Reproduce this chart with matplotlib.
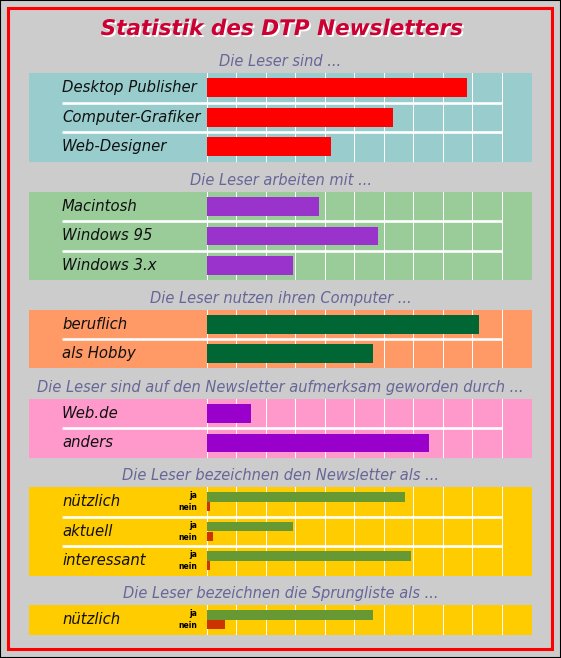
import matplotlib
matplotlib.use("Agg")
import matplotlib.pyplot as plt
import matplotlib.patheffects as pe
from matplotlib.patches import Rectangle

W, H = 561, 658

title = "Statistik des DTP Newsletters"

leser_title = "Die Leser sind ..."
leser_cats = ["Desktop Publisher", "Computer-Grafiker", "Web-Designer"]
leser_vals = [88.3, 63.2, 42.2]

system_title = "Die Leser arbeiten mit ..."
system_cats = ["Macintosh", "Windows 95", "Windows 3.x"]
system_vals = [38.1, 58.1, 29.3]

nutzung_title = "Die Leser nutzen ihren Computer ..."
nutzung_cats = ["beruflich", "als Hobby"]
nutzung_vals = [92.4, 56.4]

quelle_title = "Die Leser sind auf den Newsletter aufmerksam geworden durch ..."
quelle_cats = ["Web.de", "anders"]
quelle_vals = [15.1, 75.4]

newsletter_title = "Die Leser bezeichnen den Newsletter als ..."
newsletter_cats = ["nützlich", "aktuell", "interessant"]
newsletter_ja = [67.3, 29.3, 69.3]
newsletter_nein = [1.2, 2.2, 1.2]

sprung_title = "Die Leser bezeichnen die Sprungliste als ..."
sprung_cats = ["nützlich"]
sprung_ja = [56.4]
sprung_nein = [6.3]

ja_nein_labels = ["ja", "nein"]
x_ticks = list(range(0, 101, 10))

fig = plt.figure(figsize=(W / 100, H / 100), dpi=100)
fig.patch.set_facecolor("#CCCCCC")

X0_PX, X100_PX = 206.5, 501.5
PANEL_L, PANEL_R = 29, 532
SCALE = (X100_PX - X0_PX) / 100.0
XLIM = ((PANEL_L - X0_PX) / SCALE, (PANEL_R - X0_PX) / SCALE)
LABEL_X = (62 - X0_PX) / SCALE
JA_X = (197 - X0_PX) / SCALE

LABEL_FONT = dict(family="DejaVu Sans", style="oblique", size=10.7, color="#111111")
HEAD_FONT = dict(family="DejaVu Sans", style="oblique", size=10.5, color="#666699")


def px_rect(x0, y0, x1, y1):
    return [x0 / W, 1 - y1 / H, (x1 - x0) / W, (y1 - y0) / H]


def make_panel(top, bottom, cats, bg, heading):
    ax = fig.add_axes(px_rect(PANEL_L, top, PANEL_R, bottom))
    ax.set_facecolor(bg)
    n = len(cats)
    ax.set_xlim(*XLIM)
    ax.set_ylim(n - 0.5, -0.5)
    ax.set_xticks(x_ticks)
    ax.set_yticks([])
    ax.grid(axis="x", color="white", lw=0.75)
    ax.set_axisbelow(True)
    ax.tick_params(length=0, labelbottom=False, labelleft=False)
    for s in ax.spines.values():
        s.set_visible(False)
    for i in range(n - 1):
        ax.plot([LABEL_X, 100], [i + 0.5, i + 0.5], color="white", lw=1.9,
                solid_capstyle="butt", zorder=1)
    for i, c in enumerate(cats):
        ax.text(LABEL_X, i, c, va="center", ha="left", **LABEL_FONT)
    fig.text(280.5 / W, 1 - (top - 11.5) / H, heading, ha="center", va="center", **HEAD_FONT)
    return ax


def simple_panel(top, bottom, cats, vals, bg, color, heading):
    ax = make_panel(top, bottom, cats, bg, heading)
    ax.barh(range(len(cats)), vals, height=0.64, color=color, zorder=3)


def jn_panel(top, bottom, cats, ja, nein, heading):
    ax = make_panel(top, bottom, cats, "#FFCC00", heading)
    ys = list(range(len(cats)))
    ax.barh([y - 0.165 for y in ys], ja, height=0.33, color="#669933", zorder=3)
    ax.barh([y + 0.165 for y in ys], nein, height=0.31, color="#CC3300", zorder=3)
    for y in ys:
        ax.text(JA_X, y - 0.2, ja_nein_labels[0], ha="right", va="center",
                fontsize=5.5, fontweight="bold", color="black")
        ax.text(JA_X, y + 0.2, ja_nein_labels[1], ha="right", va="center",
                fontsize=5.5, fontweight="bold", color="black")


simple_panel(73, 161.5, leser_cats, leser_vals, "#99CCCC", "#FF0000", leser_title)
simple_panel(192, 280, system_cats, system_vals, "#99CC99", "#9933CC", system_title)
simple_panel(310, 368, nutzung_cats, nutzung_vals, "#FF9966", "#006633", nutzung_title)
simple_panel(399, 457.5, quelle_cats, quelle_vals, "#FF99CC", "#9900CC", quelle_title)
jn_panel(487, 575.5, newsletter_cats, newsletter_ja, newsletter_nein, newsletter_title)
jn_panel(605, 634.5, sprung_cats, sprung_ja, sprung_nein, sprung_title)

fig.text(281.5 / W, 1 - 29 / H, title, ha="center", va="center",
         family="DejaVu Sans", style="oblique", fontweight="bold", size=15.5,
         color="#CC0033",
         path_effects=[pe.withSimplePatchShadow(offset=(1.3, -1.3),
                                                shadow_rgbFace="white", alpha=1.0)])

fig.add_artist(Rectangle((8 / W, 1 - 648.5 / H), (552 - 8) / W, (648.5 - 8) / H,
                         fill=False, ec="#FF0000", lw=2.2, transform=fig.transFigure))
fig.add_artist(Rectangle((0, 0), 1, 1, fill=False, ec="black", lw=1.5,
                         transform=fig.transFigure))

fig.savefig("out.png", dpi=100, facecolor=fig.get_facecolor())
